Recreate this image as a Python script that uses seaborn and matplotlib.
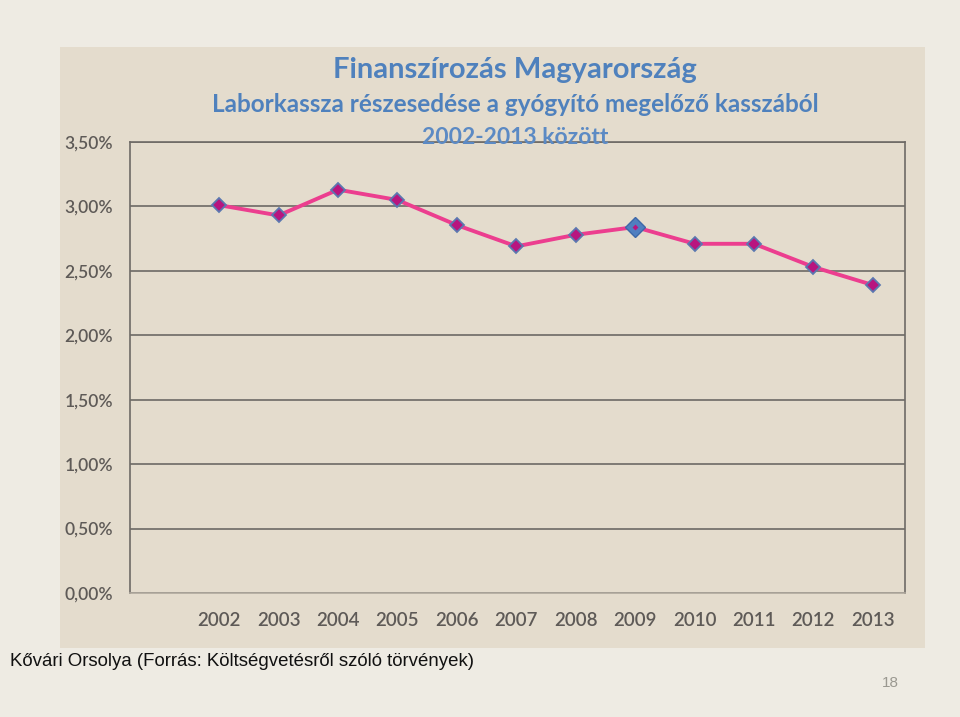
import matplotlib
matplotlib.use("Agg")
import matplotlib.pyplot as plt
from matplotlib.ticker import FuncFormatter, MultipleLocator
import seaborn as sns
import pandas as pd

years = ["2002", "2003", "2004", "2005", "2006", "2007", "2008", "2009", "2010", "2011", "2012", "2013"]
share = [3.01, 2.93, 3.13, 3.05, 2.855, 2.69, 2.78, 2.84, 2.71, 2.71, 2.53, 2.39]
highlight_year = "2009"

title1 = "Finanszírozás Magyarország"
title2 = "Laborkassza részesedése a gyógyító megelőző kasszából"
title3 = "2002-2013 között"
footer = "Kővári Orsolya (Forrás: Költségvetésről szóló törvények)"
page_no = "18"

sns.set_theme(style="white")
plt.rcParams["font.family"] = ["Lato", "DejaVu Sans"]

df = pd.DataFrame({"year": years, "share": share, "pos": range(len(years))})

fig = plt.figure(figsize=(9.6, 7.17), dpi=100)
fig.patch.set_facecolor("#EEEBE3")

W, H = 960, 717
# chart area background
bg = fig.add_axes([60 / W, 1 - 648 / H, 865 / W, 601 / H], zorder=0)
bg.set_facecolor("#E4DCCD")
bg.set_xticks([])
bg.set_yticks([])
for s in bg.spines.values():
    s.set_visible(False)

ax = fig.add_axes([130 / W, 1 - 593 / H, 775 / W, 451 / H], zorder=1)
ax.patch.set_alpha(0.0)

sns.lineplot(data=df, x="pos", y="share", ax=ax, color="#EC3E8F", linewidth=2.8,
             marker="D", markersize=7, markerfacecolor="#B8157F",
             markeredgecolor="#5B78B0", markeredgewidth=1.3, zorder=3)
hl = df[df["year"] == highlight_year]
ax.plot(hl["pos"], hl["share"], linestyle="none", marker="D", markersize=10,
        markerfacecolor="#4F7FC0", markeredgecolor="#3D68A8", zorder=4)
ax.plot(hl["pos"], hl["share"], linestyle="none", marker="D", markersize=3,
        markerfacecolor="#B8157F", markeredgecolor="none", zorder=5)

ax.set_xlim(-1.5, 11.54)
ax.set_ylim(0, 3.5)
ax.yaxis.set_major_locator(MultipleLocator(0.5))
ax.yaxis.set_major_formatter(FuncFormatter(lambda v, p: f"{v:.2f}".replace(".", ",") + "%"))
ax.grid(axis="y", color="#7E7A74", linewidth=1.4)
ax.set_axisbelow(True)
ax.set_xticks(df["pos"])
ax.set_xticklabels(years)
ax.tick_params(axis="x", length=0, pad=14, labelsize=13.5, labelcolor="#5E5A57")
ax.tick_params(axis="y", length=0, pad=12, labelsize=12.5, labelcolor="#5E5A57")
for lab in ax.get_xticklabels() + ax.get_yticklabels():
    lab.set_fontweight("semibold")
ax.set_xlabel("")
ax.set_ylabel("")
for s in ["left", "right", "top"]:
    ax.spines[s].set_visible(True)
    ax.spines[s].set_color("#6E6A66")
    ax.spines[s].set_linewidth(1.2)
ax.spines["bottom"].set_color("#B0A99E")
ax.spines["bottom"].set_linewidth(1.2)

blue = "#4F81BD"
fig.text(515 / W, 1 - 70 / H, title1, ha="center", va="center", fontsize=21,
         fontweight="bold", color=blue, zorder=5)
fig.text(515 / W, 1 - 104 / H, title2, ha="center", va="center", fontsize=17.5,
         fontweight="bold", color=blue, zorder=5)
fig.text(515 / W, 1 - 137 / H, title3, ha="center", va="center", fontsize=16.5,
         fontweight="bold", color="#5C8AC4", zorder=5)

fig.text(10 / W, 1 - 662 / H, footer, ha="left", va="center", fontsize=13.4,
         family=["Liberation Sans", "DejaVu Sans"], color="#111111")
fig.text(890 / W, 1 - 683 / H, page_no, ha="center", va="center", fontsize=11,
         family=["Liberation Sans", "DejaVu Sans"], color="#9A9890")

fig.savefig("out.png", dpi=100, facecolor=fig.get_facecolor())
